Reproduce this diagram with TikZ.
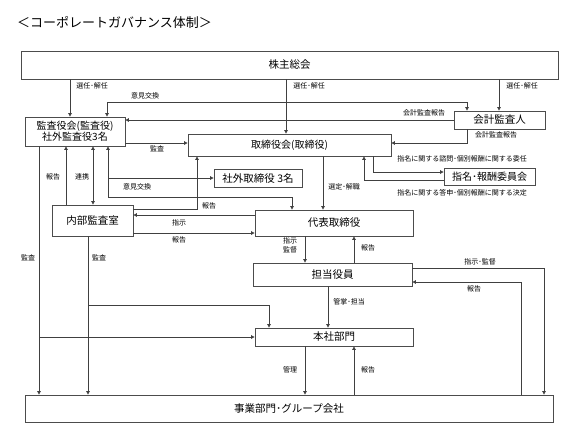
\documentclass[tikz,border=0pt]{standalone}
\usepackage{fontspec}
\setmainfont{Noto Sans CJK JP}
\usetikzlibrary{arrows.meta}
\begin{document}
\begin{tikzpicture}[x=1bp,y=-1bp,
  box/.style={draw=black!70,line width=0.8bp,inner sep=0pt,font=\fontsize{10.5bp}{12bp}\selectfont,align=center},
  lab/.style={inner sep=0pt,font=\fontsize{7bp}{8.5bp}\selectfont,align=center},
  ln/.style={draw=black!75,line width=0.8bp},
  arr/.style={ln,-{Triangle[length=3.5bp,width=3.5bp]}},
  arrb/.style={ln,{Triangle[length=3.5bp,width=3.5bp]}-{Triangle[length=3.5bp,width=3.5bp]}}]
\useasboundingbox[fill=white] (0,0) rectangle (573,430);
\node[anchor=west,inner sep=0pt,font=\fontsize{13bp}{15bp}\selectfont] (title) at (17,22) {＜コーポレートガバナンス体制＞};
% boxes
\node[box,minimum width=537bp,minimum height=28bp] (kabu) at (289.5,65) {株主総会};
\node[box,minimum width=100bp,minimum height=29bp,font=\fontsize{10bp}{11bp}\selectfont] (kansa) at (75,131.5) {監査役会(監査役)\\社外監査役3名};
\node[box,minimum width=91bp,minimum height=18bp] (kaikei) at (499.5,120) {会計監査人};
\node[box,minimum width=203bp,minimum height=22bp,font=\fontsize{10bp}{12bp}\selectfont] (tori) at (289.5,145) {取締役会(取締役)};
\node[box,minimum width=91bp,minimum height=17bp,font=\fontsize{10bp}{12bp}\selectfont] (shimei) at (489.5,176.5) {指名･報酬委員会};
\node[box,minimum width=88bp,minimum height=18bp] (shagai) at (258,178) {社外取締役 3名};
\node[box,minimum width=81bp,minimum height=31bp] (naibu) at (92.5,220.5) {内部監査室};
\node[box,minimum width=158bp,minimum height=26bp] (daihyo) at (334,223) {代表取締役};
\node[box,minimum width=159bp,minimum height=23bp] (tanto) at (332.5,274.5) {担当役員};
\node[box,minimum width=158bp,minimum height=18bp] (honsha) at (334,337) {本社部門};
\node[box,minimum width=528bp,minimum height=27bp] (jigyo) at (289,408.5) {事業部門･グループ会社};
% connectors
\draw[arr] (kabu.south -| 70,0) -- (kansa.north -| 70,0);
\node[lab] (l1) at (92,86) {選任･解任};
\draw[arr] (kabu.south -| 286,0) -- (tori.north -| 286,0);
\node[lab] (l2) at (309,86) {選任･解任};
\draw[arr] (kabu.south -| 499,0) -- (kaikei.north -| 499,0);
\node[lab] (l3) at (522,86) {選任･解任};
\draw[arrb] (kansa.north -| 107,0) -- (107,102) -- (467,102) -- (kaikei.north -| 467,0);
\node[lab] (l4) at (145,96) {意見交換};
\draw[arr] (kaikei.west) -- (kaikei.west -| kansa.east);
\node[lab] (l5) at (424,113) {会計監査報告};
\draw[arr] (kaikei.south -| 467,0) -- (467,143) -- (tori.east |- 0,143);
\node[lab] (l6) at (496,135) {会計監査報告};
\draw[arr] (kansa.east |- 0,143) -- (tori.west |- 0,143);
\node[lab] (l7) at (157,149) {監査};
\draw[arr] (tori.south -| 373,0) |- (shimei.west |- 0,172);
\node[lab] (l8) at (462,159) {指名に関する諮問･個別報酬に関する委任};
\draw[arr] (shimei.west |- 0,180) -| (tori.south -| 364,0);
\node[lab] (l9) at (462,193) {指名に関する答申･個別報酬に関する決定};
\draw[arrb] (kansa.south -| 108,0) -- (108,197) -| (daihyo.north -| 292,0);
\draw[arr] (108,178) -- (shagai.west);
\node[lab] (l10) at (137,187) {意見交換};
\draw[arr] (naibu.north -| 66,0) -- (kansa.south -| 66,0);
\node[lab] (l11) at (53,177) {報告};
\draw[arrb] (kansa.south -| 93,0) -- (naibu.north -| 93,0);
\node[lab] (l12) at (82,177) {連携};
\draw[arr] (naibu.east |- 0,209) -| (tori.south -| 197,0);
\node[lab] (l13) at (209,206) {報告};
\draw[arr] (daihyo.west |- 0,215) -- (naibu.east |- 0,215);
\node[lab] (l14) at (179,223) {指示};
\draw[arr] (naibu.east |- 0,233) -- (daihyo.west |- 0,233);
\node[lab] (l15) at (179,240) {報告};
\draw[arr] (tori.south -| 323,0) -- (daihyo.north -| 323,0);
\node[lab] (l16) at (344,187) {選定･解職};
\draw[arr] (daihyo.south -| 305,0) -- (tanto.north -| 305,0);
\node[lab] (l17) at (290,245.5) {指示\\監督};
\draw[arr] (tanto.north -| 354,0) -- (daihyo.south -| 354,0);
\node[lab] (l18) at (368,248) {報告};
\draw[arr] (tanto.east |- 0,268) -| (jigyo.north -| 544,0);
\node[lab] (l19) at (480,262) {指示･監督};
\draw[arr] (jigyo.north -| 521,0) |- (tanto.east |- 0,282);
\node[lab] (l20) at (474,289) {報告};
\draw[arr] (tanto.south -| 328,0) -- (honsha.north -| 328,0);
\node[lab] (l21) at (349,302) {管掌･担当};
\draw[arr] (honsha.south -| 305,0) -- (jigyo.north -| 305,0);
\node[lab] (l22) at (290,370) {管理};
\draw[arr] (jigyo.north -| 354,0) -- (honsha.south -| 354,0);
\node[lab] (l23) at (368,370) {報告};
\draw[arr] (kansa.south -| 39,0) -- (jigyo.north -| 39,0);
\draw[arr] (39,337) -- (honsha.west);
\node[lab] (l24) at (28,258) {監査};
\draw[arr] (naibu.south -| 88,0) -- (jigyo.north -| 88,0);
\draw[arr] (88,305) -| (honsha.north -| 269,0);
\node[lab] (l25) at (99,258) {監査};
\end{tikzpicture}
\end{document}
